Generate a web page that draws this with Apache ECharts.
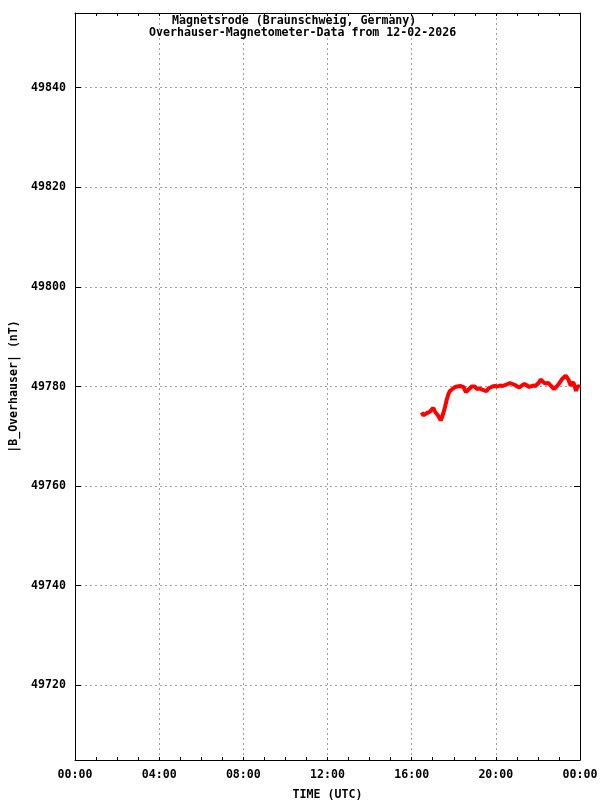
<!DOCTYPE html>
<html>
<head>
<meta charset="utf-8">
<script src="https://cdn.jsdelivr.net/npm/echarts@6/dist/echarts.min.js"></script>
<style>html,body{margin:0;padding:0;background:#fff}#c{width:600px;height:800px}</style>
</head>
<body>
<div id="c"></div>
<script>
const titleLine1 = 'Magnetsrode (Braunschweig, Germany)';
const titleLine2 = 'Overhauser-Magnetometer-Data from 12-02-2026';
const xName = 'TIME (UTC)';
const yName = '|B_Overhauser| (nT)';
const xTickHours = [0, 4, 8, 12, 16, 20, 24];
const xTickLabels = ['00:00', '04:00', '08:00', '12:00', '16:00', '20:00', '00:00'];
const yMin = 49705, yMax = 49855;
const hours = [16.48,16.55,16.63,16.70,16.79,16.88,16.95,17.03,17.10,17.19,17.28,17.38,17.44,17.51,17.59,17.67,17.74,17.82,17.94,18.06,18.18,18.30,18.38,18.46,18.52,18.58,18.68,18.77,18.85,18.93,19.01,19.09,19.20,19.33,19.45,19.57,19.65,19.72,19.84,19.96,20.08,20.20,20.32,20.44,20.56,20.67,20.79,20.91,21.02,21.12,21.24,21.36,21.48,21.59,21.68,21.78,21.88,21.97,22.05,22.13,22.23,22.34,22.42,22.50,22.63,22.77,22.87,22.97,23.05,23.13,23.22,23.32,23.38,23.45,23.50,23.56,23.62,23.68,23.75,23.81,23.85,23.89,23.95,24.0];
const values = [49774.8,49774.2,49774.0,49774.6,49774.4,49775.0,49775.3,49775.7,49775.0,49774.7,49774.0,49773.2,49773.8,49774.7,49776.0,49777.4,49778.4,49779.1,49779.5,49779.9,49780.0,49780.1,49780.2,49779.9,49779.4,49778.9,49779.3,49779.7,49780.0,49780.3,49780.0,49779.5,49779.6,49779.4,49779.2,49779.1,49779.6,49779.9,49780.0,49780.1,49780.0,49780.2,49780.1,49780.3,49780.5,49780.7,49780.5,49780.3,49780.0,49779.8,49780.2,49780.5,49780.2,49779.9,49780.0,49780.2,49780.1,49780.4,49780.8,49781.4,49781.0,49780.6,49780.9,49780.7,49780.1,49779.5,49779.9,49780.4,49780.8,49781.4,49781.8,49782.2,49781.9,49781.4,49780.8,49780.2,49780.6,49780.9,49780.0,49779.1,49779.5,49780.1,49779.7,49779.9];

const font = '"DejaVu Sans Mono", "Liberation Mono", monospace';
const txt = {color: '#000', fontFamily: font, fontWeight: 'bold', fontSize: 11.6};
const chart = echarts.init(document.getElementById('c'), null, {renderer: 'canvas'});
const gridDash = {show: true, lineStyle: {color: '#a0a0a0', type: [2, 3], width: 1}};
const axisLineStyle = {show: true, onZero: false, lineStyle: {color: '#000', width: 1}};
chart.setOption({
  animation: false,
  backgroundColor: '#fff',
  title: [
    {text: titleLine1, left: 172, top: 15, textStyle: Object.assign({}, txt), padding: 0},
    {text: titleLine2, left: 149, top: 27, textStyle: Object.assign({}, txt), padding: 0}
  ],
  grid: {left: 75, right: 20, top: 13, bottom: 40, containLabel: false, outerBoundsMode: 'none'},
  xAxis: [
    {type: 'value', min: 0, max: 24, interval: 4, position: 'bottom',
     name: xName, nameLocation: 'middle', nameGap: 29, nameTextStyle: Object.assign({}, txt),
     axisLine: axisLineStyle,
     axisTick: {show: true, inside: true, length: 3, lineStyle: {color: '#000'}},
     minorTick: {show: true, splitNumber: 4, length: 3, lineStyle: {color: '#000'}},
     axisLabel: Object.assign({margin: 9, formatter: v => { const i = xTickHours.indexOf(v); return i >= 0 ? xTickLabels[i] : ''; }}, txt),
     splitLine: gridDash},
    {type: 'value', min: 0, max: 24, interval: 4, position: 'top',
     axisLine: axisLineStyle,
     axisTick: {show: true, inside: true, length: 3, lineStyle: {color: '#000'}},
     minorTick: {show: true, splitNumber: 4, length: 3, lineStyle: {color: '#000'}},
     axisLabel: {show: false}, splitLine: {show: false}}
  ],
  yAxis: [
    {type: 'value', min: yMin, max: yMax, splitNumber: 7, position: 'left',
     name: yName, nameLocation: 'middle', nameGap: 55, nameRotate: 90, nameTextStyle: Object.assign({}, txt),
     axisLine: axisLineStyle,
     axisTick: {show: true, inside: true, length: 6, lineStyle: {color: '#000'}},
     axisLabel: Object.assign({margin: 9, showMinLabel: false, showMaxLabel: false, formatter: v => (v % 20 === 0 ? String(v) : '')}, txt),
     splitLine: gridDash},
    {type: 'value', min: yMin, max: yMax, splitNumber: 7, position: 'right',
     axisLine: axisLineStyle,
     axisTick: {show: true, inside: true, length: 6, lineStyle: {color: '#000'}},
     axisLabel: {show: false}, splitLine: {show: false}}
  ],
  series: [{
    type: 'line', xAxisIndex: 0, yAxisIndex: 0,
    data: hours.map((h, i) => [h, values[i]]),
    showSymbol: false, symbol: 'none',
    lineStyle: {color: '#ff0000', width: 4},
    itemStyle: {color: '#ff0000'}
  }]
});
</script>
</body>
</html>
